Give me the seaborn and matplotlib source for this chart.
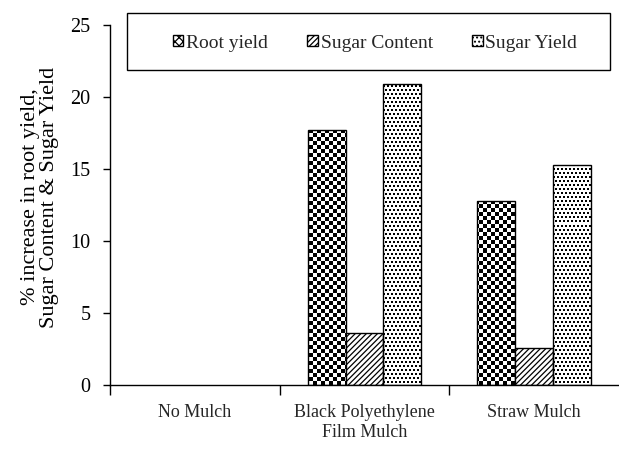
import numpy as np
import pandas as pd
import matplotlib
matplotlib.use("Agg")
import matplotlib.pyplot as plt
from matplotlib.patches import Patch, Rectangle
import seaborn as sns

treatments = ["No Mulch", "Black Polyethylene\nFilm Mulch", "Straw Mulch"]
params = ["Root yield", "Sugar Content", "Sugar Yield"]
root_yield = [0.0, 17.7, 12.8]
sugar_content = [0.0, 3.6, 2.6]
sugar_yield = [0.0, 20.9, 15.3]

df = pd.DataFrame({
    "treatment": treatments * 3,
    "param": np.repeat(params, 3),
    "value": root_yield + sugar_content + sugar_yield,
})

sns.set_style("ticks")
plt.rcParams["font.family"] = ["Liberation Serif", "DejaVu Serif"]
plt.rcParams["hatch.linewidth"] = 0.9

fig = plt.figure(figsize=(6.19, 4.5), dpi=100)
ax = fig.add_axes([110 / 619, 65 / 450, 509 / 619, 360 / 450])

sns.barplot(data=df, x="treatment", y="value", hue="param", order=treatments,
            hue_order=params, palette=["white"] * 3, edgecolor="black",
            linewidth=1.0, width=0.67, legend=False, ax=ax)

ax.set_xlim(-0.5, 2.5)
ax.set_ylim(0, 25)

# textures: checkerboard (4px cells) for root yield, offset dots for sugar yield
yy, xx = np.indices((90, 128))
checker = ((yy + xx) % 2).astype(float)
yy2, xx2 = np.indices((180, 255))
dots = ((yy2 % 2 == 0) & (xx2 % 2 == (yy2 // 2) % 2)).astype(float)
dots = 1 - dots

for cont, pattern in [(ax.containers[0], checker), (ax.containers[2], dots)]:
    for bar in cont:
        im = ax.imshow(pattern, cmap="gray", vmin=0, vmax=1, extent=(-0.5, 2.5, 0, 25),
                       aspect="auto", interpolation="nearest",
                       zorder=bar.get_zorder() - 0.1)
        im.set_clip_path(bar)
        bar.set_facecolor("none")
for bar in ax.containers[1]:
    bar.set_hatch("//////")
for cont in ax.containers:
    for bar in cont:
        if bar.get_height() == 0:
            bar.set_linewidth(0)
ax.set_xlim(-0.5, 2.5)
ax.set_ylim(0, 25)

sns.despine(ax=ax)
for side in ["left", "bottom"]:
    ax.spines[side].set_linewidth(1.0)
    ax.spines[side].set_color("black")

ax.set_yticks([0, 5, 10, 15, 20, 25])
ax.tick_params(axis="y", length=5, width=1, labelsize=14.5, colors="black", pad=9)
ax.tick_params(axis="x", which="major", length=0, labelsize=13, pad=14)
ax.set_xticks([-0.5, 0.5, 1.5], minor=True)
ax.tick_params(axis="x", which="minor", length=7, width=1, colors="black")
ax.set_xlabel("")
ax.set_ylabel("")
fig.text(40 / 619, 1 - 197 / 450, "% increase in root yield,\nSugar Content & Sugar Yield",
         rotation=90, ha="center", va="center", fontsize=16, linespacing=1.0,
         color="black")

handles = [
    Patch(facecolor="white", edgecolor="black", hatch="xxxx", label=params[0]),
    Patch(facecolor="white", edgecolor="black", hatch="//////", label=params[1]),
    Patch(facecolor="white", edgecolor="black", hatch="....", label=params[2]),
]
fig.patches.append(Rectangle((127 / 619, 1 - 70 / 450), 483 / 619, 57 / 450,
                             transform=fig.transFigure, facecolor="white",
                             edgecolor="black", linewidth=1.0, zorder=5))
leg = fig.legend(handles=handles, loc="center", ncol=3,
                 bbox_to_anchor=(375 / 619, 1 - 43 / 450),
                 bbox_transform=fig.transFigure, fontsize=14, frameon=False,
                 handlelength=0.55, handleheight=0.55, handletextpad=0.15,
                 columnspacing=2.0, borderaxespad=0)
leg.set_zorder(6)

fig.savefig("out.png", dpi=100)
